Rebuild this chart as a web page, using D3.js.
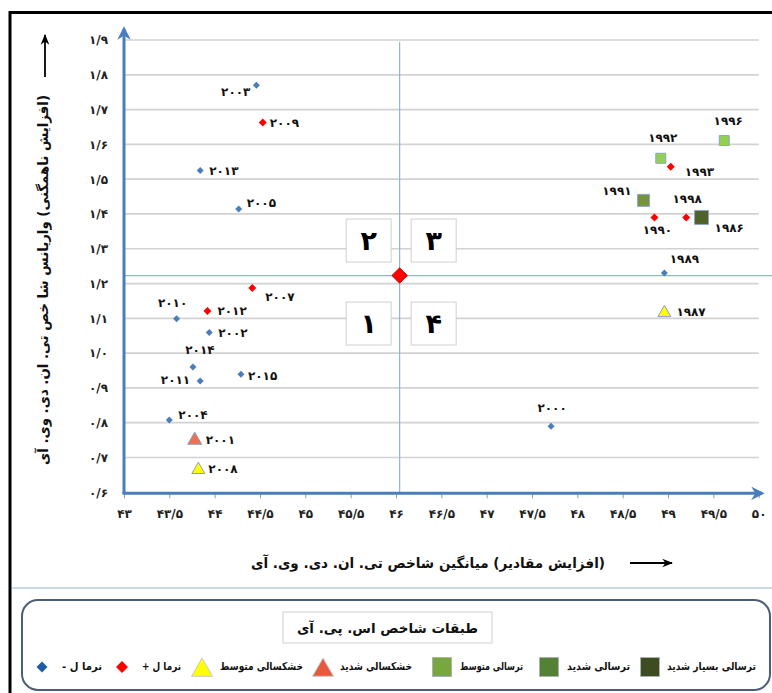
<!DOCTYPE html>
<html>
<head>
<meta charset="utf-8">
<script src="https://cdn.jsdelivr.net/npm/d3@7/dist/d3.min.js"></script>
<style>
  html, body { margin: 0; padding: 0; background: #fff; }
  svg { display: block; }
  text { font-family: "DejaVu Sans", "Noto Sans", sans-serif; }
</style>
</head>
<body>
<svg id="chart" width="772" height="693"></svg>
<script>
// ---------------- DATA ----------------
const years   = [2003, 2009, 2013, 2005, 2007, 2012, 2010, 2002, 2014, 2011, 2015, 2004, 2001, 2008, 2000, 1989, 1987, 1996, 1992, 1993, 1991, 1990, 1998, 1986];
const ndviMean = [44.46, 44.53, 43.84, 44.265, 44.415, 43.92, 43.58, 43.94, 43.76, 43.84, 44.29, 43.50, 43.78, 43.82, 47.71, 48.96, 48.96, 49.62, 48.92, 49.03, 48.73, 48.85, 49.20, 49.37];
const ndviVar  = [1.770, 1.663, 1.525, 1.414, 1.187, 1.121, 1.099, 1.059, 0.960, 0.920, 0.939, 0.808, 0.752, 0.667, 0.790, 1.230, 1.118, 1.611, 1.560, 1.536, 1.439, 1.390, 1.390, 1.390];
const spiClass = ["n-", "n+", "n-", "n-", "n+", "n+", "n-", "n-", "n-", "n-", "n-", "n-", "sd", "md", "n-", "n-", "md", "mw", "mw", "n+", "sw", "n+", "n+", "vsw"];

const meanPoint = [46.04, 1.223];   // overall mean (quadrant centre)

const classKeys   = ["vsw", "sw", "mw", "sd", "md", "n+", "n-"];
const classNames  = ["ترسالی بسیار شدید", "ترسالی شدید", "ترسالی متوسط", "خشکسالی شدید", "خشکسالی متوسط", "نرما ل +", "نرما ل -"];

const xTickValues = [43, 43.5, 44, 44.5, 45, 45.5, 46, 46.5, 47, 47.5, 48, 48.5, 49, 49.5, 50];
const yTickValues = [0.6, 0.7, 0.8, 0.9, 1.0, 1.1, 1.2, 1.3, 1.4, 1.5, 1.6, 1.7, 1.8, 1.9];

const quadrantLabels = ["۲", "۳", "۱", "۴"];
const xTitle = "(افزایش مقادیر)  میانگین شاخص تی. ان. دی. وی. آی";
const yTitle = "(افزایش ناهمگنی)  واریانس شا خص تی. ان. دی. وی. آی";
const legendTitle = "طبقات شاخص  اس. پی. آی";

// ---------------- STYLE / LAYOUT ----------------
const style = {
  "n-":  { shape: "diamond",  fill: "#4a7ebb", stroke: "none",    size: 7,  lfill: "#1f5ca8" },
  "n+":  { shape: "diamond",  fill: "#ff0000", stroke: "none",    size: 8,  lfill: "#ff0000" },
  "md":  { shape: "triangle", fill: "#ffff00", stroke: "#8aa0bd", size: 13, lfill: "#ffff00" },
  "sd":  { shape: "triangle", fill: "#f07150", stroke: "#8aa0bd", size: 14, lfill: "#e8583c" },
  "mw":  { shape: "square",   fill: "#92d050", stroke: "#8aa6c8", size: 10, lfill: "#77a83e" },
  "sw":  { shape: "square",   fill: "#76923c", stroke: "#8aa6c8", size: 12, lfill: "#548235" },
  "vsw": { shape: "square",   fill: "#4f6228", stroke: "#8aa6c8", size: 14, lfill: "#3d4d22" }
};
// label placement: [dx, dy, anchor]
const labelPos = {
  2003: [-6, 6, "end"], 2009: [7, 0, "start"], 2013: [9, 0, "start"], 2005: [8, -6, "start"],
  2007: [13, 9, "start"], 2012: [10, 0, "start"], 2010: [-4, -16, "middle"], 2002: [9, 0, "start"],
  2014: [7, -17, "middle"], 2011: [-10, -1, "end"], 2015: [7, 1, "start"], 2004: [9, -5, "start"],
  2001: [11, 0, "start"], 2008: [10, 0, "start"], 2000: [1, -19, "middle"], 1989: [20, -14, "middle"],
  1987: [12, 0, "start"], 1996: [4, -20, "middle"], 1992: [2, -21, "middle"], 1993: [14, 5, "start"],
  1991: [-12, -10, "end"], 1998: [1, -19, "middle"], 1990: [3, 12, "middle"], 1986: [13, 10, "start"]
};

const faDigits = s => String(s).replace(/\d/g, d => "۰۱۲۳۴۵۶۷۸۹"[+d]).replace(/\./g, "/");
const fmtX = v => faDigits(v);
const fmtY = v => faDigits(d3.format(".1f")(v));

const svg = d3.select("#chart");
const x = d3.scaleLinear().domain([43, 50]).range([124, 758.7]);
const y = d3.scaleLinear().domain([0.6, 1.9]).range([492.3, 40]);

// outer frame
svg.append("rect").attr("x", 10).attr("y", 12.5).attr("width", 800).attr("height", 800)
  .attr("fill", "none").attr("stroke", "#000").attr("stroke-width", 3);

// gridlines
svg.append("g").selectAll("line").data(yTickValues.slice(1)).join("line")
  .attr("x1", x(43)).attr("x2", x(50)).attr("y1", d => y(d)).attr("y2", d => y(d))
  .attr("stroke", "#d2d2d2").attr("stroke-width", 1.7);

// y axis labels
const yAxis = svg.append("g").attr("transform", `translate(${x(43) - 16},0)`)
  .call(d3.axisLeft(y).tickValues(yTickValues).tickSize(0).tickPadding(0).tickFormat(fmtY));
yAxis.select(".domain").remove();
yAxis.selectAll("text").attr("font-size", 12).attr("font-weight", "bold").attr("fill", "#222");

// x axis ticks + labels
const xAxis = svg.append("g").attr("transform", `translate(0,${y(0.6) + 1})`)
  .call(d3.axisBottom(x).tickValues(xTickValues).tickSize(5).tickPadding(11).tickFormat(fmtX));
xAxis.select(".domain").remove();
xAxis.selectAll("line").attr("stroke", "#8a9bb5");
xAxis.selectAll("text").attr("font-size", 12).attr("font-weight", "bold").attr("fill", "#222");

// quadrant centre lines
svg.append("line").attr("x1", x(meanPoint[0])).attr("x2", x(meanPoint[0]))
  .attr("y1", y(1.895)).attr("y2", y(0.6)).attr("stroke", "#8db3e2").attr("stroke-width", 1.2);
svg.append("line").attr("x1", x(43)).attr("x2", 772)
  .attr("y1", y(meanPoint[1])).attr("y2", y(meanPoint[1])).attr("stroke", "#8db3e2").attr("stroke-width", 1.2);

// axes lines with arrows
const defs = svg.append("defs");
defs.append("marker").attr("id", "blueArrow").attr("viewBox", "0 0 10 10").attr("refX", 8).attr("refY", 5)
  .attr("markerWidth", 4.5).attr("markerHeight", 4.5).attr("orient", "auto")
  .append("path").attr("d", "M0,0 L10,5 L0,10 L3,5 Z").attr("fill", "#4a7ebb");
defs.append("marker").attr("id", "blackArrow").attr("viewBox", "0 0 10 10").attr("refX", 9).attr("refY", 5)
  .attr("markerWidth", 6).attr("markerHeight", 6).attr("orient", "auto")
  .append("path").attr("d", "M0,1 L10,5 L0,9 L3,5 Z").attr("fill", "#000");

svg.append("line").attr("x1", x(43)).attr("x2", x(43)).attr("y1", y(0.6) + 1.5).attr("y2", 29)
  .attr("stroke", "#4a7ebb").attr("stroke-width", 3).attr("marker-end", "url(#blueArrow)");
svg.append("line").attr("x1", x(43) - 1.5).attr("x2", 762).attr("y1", y(0.6) + 1).attr("y2", y(0.6) + 1)
  .attr("stroke", "#4a7ebb").attr("stroke-width", 3).attr("marker-end", "url(#blueArrow)");

// quadrant boxes
const qx = [x(meanPoint[0]) - 31, x(meanPoint[0]) + 34];
const qy = [y(meanPoint[1]) - 35, y(meanPoint[1]) + 48];
const qBoxes = [[qx[0], qy[0]], [qx[1], qy[0]], [qx[0], qy[1]], [qx[1], qy[1]]];
const qg = svg.append("g").selectAll("g").data(quadrantLabels).join("g")
  .attr("transform", (d, i) => `translate(${qBoxes[i][0]},${qBoxes[i][1]})`);
qg.append("rect").attr("x", -22.5).attr("y", -21.5).attr("width", 45).attr("height", 43)
  .attr("fill", "#fff").attr("stroke", "#cfcfcf").attr("stroke-width", 1);
qg.append("text").attr("text-anchor", "middle").attr("dy", "0.36em")
  .attr("font-size", 27).attr("font-weight", "bold").attr("fill", "#000").text(d => d);

// mean diamond
svg.append("path").attr("transform", `translate(${x(meanPoint[0])},${y(meanPoint[1])}) rotate(45)`)
  .attr("d", d3.symbol(d3.symbolSquare, 11 * 11)()).attr("fill", "#ff0000").attr("stroke", "#c00000").attr("stroke-width", 0.8);

// marker drawing
function shapeOf(st, size) {
  if (st.shape === "diamond") {
    const r = size / 2;
    return `M0,${-r}L${r},0L0,${r}L${-r},0Z`;
  }
  if (st.shape === "triangle") {
    const h = size * 0.87, w = size;
    return `M0,${-h * 0.6}L${w / 2},${h * 0.4}L${-w / 2},${h * 0.4}Z`;
  }
  return `M${-size / 2},${-size / 2}h${size}v${size}h${-size}Z`;
}

const pts = years.map((yr, i) => ({ yr, mx: ndviMean[i], vy: ndviVar[i], cls: spiClass[i] }));
const pg = svg.append("g").selectAll("g").data(pts).join("g")
  .attr("transform", d => `translate(${x(d.mx)},${y(d.vy)})`);
pg.append("path").attr("d", d => shapeOf(style[d.cls], style[d.cls].size))
  .attr("fill", d => style[d.cls].fill)
  .attr("stroke", d => style[d.cls].stroke).attr("stroke-width", 1);
pg.append("text")
  .attr("x", d => labelPos[d.yr][0]).attr("y", d => labelPos[d.yr][1]).attr("dy", "0.36em")
  .attr("text-anchor", d => labelPos[d.yr][2])
  .attr("font-size", 12).attr("font-weight", "bold").attr("fill", "#111")
  .text(d => faDigits(d.yr));

// axis titles
svg.append("text").attr("x", 428).attr("y", 563).attr("dy", "0.35em").attr("text-anchor", "middle")
  .attr("direction", "rtl").attr("font-size", 14).attr("font-weight", "bold").attr("fill", "#111")
  .attr("textLength", 354).attr("lengthAdjust", "spacingAndGlyphs").text(xTitle);
svg.append("line").attr("x1", 630).attr("x2", 672).attr("y1", 563).attr("y2", 563)
  .attr("stroke", "#000").attr("stroke-width", 1.8).attr("marker-end", "url(#blackArrow)");

svg.append("text").attr("transform", "translate(43,280) rotate(-90)").attr("dy", "0.35em").attr("text-anchor", "middle")
  .attr("direction", "rtl").attr("font-size", 14).attr("font-weight", "bold").attr("fill", "#111")
  .attr("textLength", 370).attr("lengthAdjust", "spacingAndGlyphs").text(yTitle);
svg.append("line").attr("x1", 45).attr("x2", 45).attr("y1", 77).attr("y2", 35)
  .attr("stroke", "#000").attr("stroke-width", 1.8).attr("marker-end", "url(#blackArrow)");

// separator line
svg.append("line").attr("x1", 12).attr("x2", 772).attr("y1", 588).attr("y2", 588)
  .attr("stroke", "#b9cde5").attr("stroke-width", 1.5);

// legend
svg.append("rect").attr("x", 22).attr("y", 600).attr("width", 748).attr("height", 90).attr("rx", 16)
  .attr("fill", "#fff").attr("stroke", "#4b5d7a").attr("stroke-width", 2);
svg.append("rect").attr("x", 283).attr("y", 612).attr("width", 209).attr("height", 31)
  .attr("fill", "#fff").attr("stroke", "#d0d0d0").attr("stroke-width", 1);
svg.append("text").attr("x", 387.5).attr("y", 628).attr("dy", "0.36em").attr("text-anchor", "middle")
  .attr("direction", "rtl").attr("font-size", 13.5).attr("font-weight", "bold").attr("fill", "#111")
  .text(legendTitle);

// legend rows (right-to-left): text span [left, right], marker centre
const legTextL = [667, 567, 460, 340, 220, 142, 62];
const legTextR = [756, 630, 523, 412, 303, 181, 102];
const legMarkX = [650, 549, 442, 323, 202, 122, 42];
const legSize  = { "vsw": 19, "sw": 19, "mw": 19, "sd": 21, "md": 21, "n+": 12, "n-": 11 };
const lg = svg.append("g").selectAll("g").data(classKeys).join("g");
lg.append("path")
  .attr("transform", (d, i) => `translate(${legMarkX[i]},${d === "sd" || d === "md" ? 669 : 667})`)
  .attr("d", d => shapeOf(style[d], legSize[d]))
  .attr("fill", d => style[d].lfill)
  .attr("stroke", d => style[d].shape === "diamond" ? "none" : (style[d].shape === "triangle" ? "#c9c9c9" : "#b0b0b0"))
  .attr("stroke-width", 1);
lg.append("text").attr("x", 0).attr("y", 0).attr("dy", "0.36em")
  .attr("text-anchor", "middle").attr("direction", "rtl")
  .attr("font-size", 11).attr("font-weight", "bold").attr("fill", "#111")
  .text((d, i) => classNames[i])
  .each(function (d, i) {
    const w = this.getComputedTextLength() || 1;
    const target = legTextR[i] - legTextL[i];
    const sx = Math.min(1.2, target / w);
    d3.select(this).attr("transform", `translate(${(legTextL[i] + legTextR[i]) / 2},666) scale(${sx},1)`);
  });
</script>
</body>
</html>
